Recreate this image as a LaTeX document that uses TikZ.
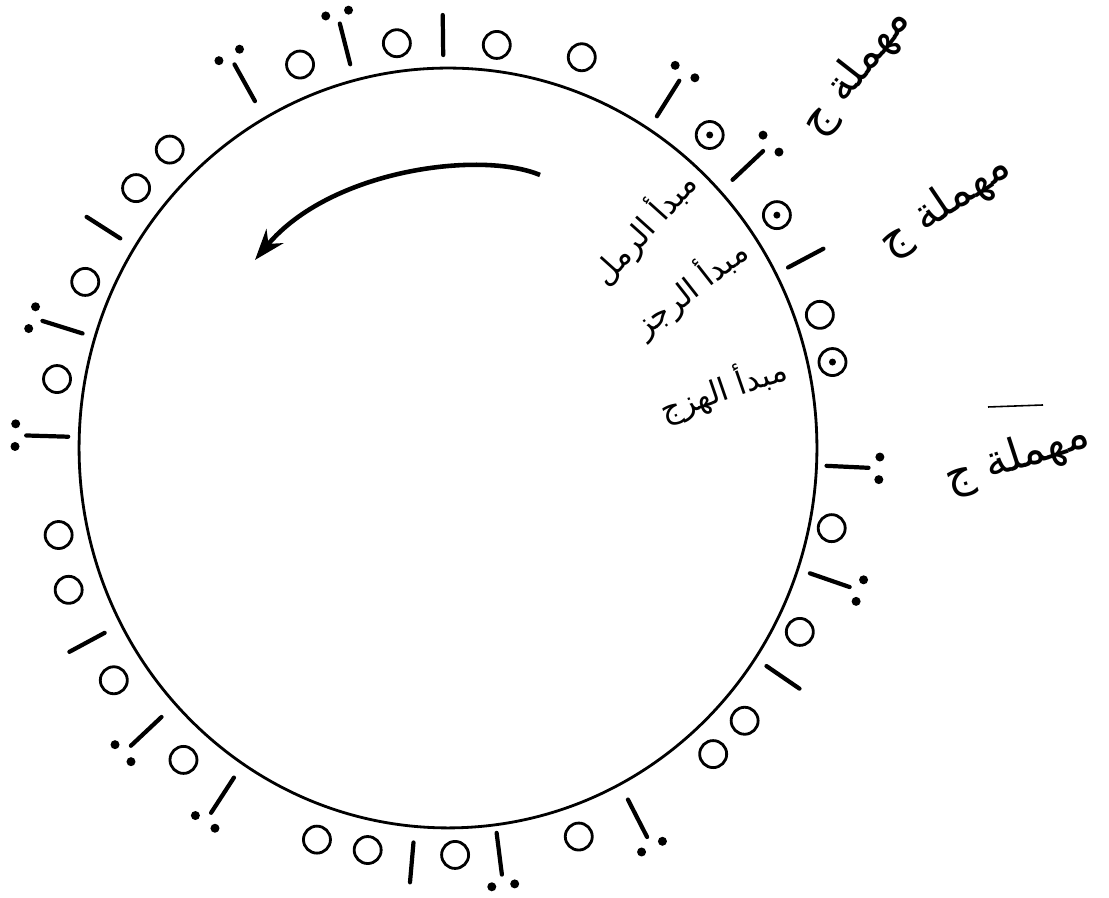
\documentclass[tikz,border=0pt]{standalone}
\usepackage{fontspec}
\usetikzlibrary{arrows.meta}
\newfontfamily\arabicfont[Script=Arabic]{DejaVu Sans}
\TeXXeTstate=1

\begin{document}
\begin{tikzpicture}[
  x=0.02cm, y=0.02cm,
  ring/.style={circle, draw, line width=1.6pt, minimum size=0.54cm, inner sep=0pt},
  tick/.style={line width=2.4pt, line cap=round},
  lbl/.style={font=\arabicfont\fontsize{18}{20}\selectfont, inner sep=0pt},
  big/.style={font=\arabicfont\fontsize{25}{28}\selectfont, inner sep=0pt},
  arr/.style={-{Stealth[length=0.62cm, width=0.44cm]}, line width=2.6pt},
]
\useasboundingbox (0,0) rectangle (1109,898);
\coordinate (c) at (448,450);

% --- la dairah ---
\draw[line width=1.6pt] (c) ellipse [x radius=7.38cm, y radius=7.6cm];

% --- sawakin ---
\foreach \a/\r [count=\i] in {83.1/406, 71.1/413, 19.7/395, -11.8/392, -27.6/397,
    -42.6/403, -49.1/405, -71.4/410, -89/407, -101.3/410, -108.5/413, -130.3/409,
    -145.2/407, -159.5/405, -167.4/399, 170/397, 155.4/399, 140.2/406, 133/408,
    111.1/411, 97.2/408}
  \node[ring] (o\i) at ([shift={(\a:\r)}]c) {};

% --- sawakin manqutah ---
\foreach \a/\r [count=\i] in {50.1/408, 35.3/403, 12.6/394} {
  \node[ring] (d\i) at ([shift={(\a:\r)}]c) {};
  \fill (d\i.center) circle (0.07cm);
}

% --- harakat ---
\foreach \a/\r in {90.7/393, 27.96/385, -34.4/386, -95/396, -151.7/390, 147.4/389}
  \draw[tick] ([shift={(\a:\r)}]c) -- ([shift={(\a:{\r+40})}]c);

% --- harakat bi-nuqtatayn ---
\foreach \a/\r in {57.8/392, 43.3/391, -2.7/379, -19.1/383, -62.9/395, -82.8/388,
    -123/393, -136.8/393, 178.3/380, 162.6/383, 119.1/397, 104.3/396} {
  \draw[tick] ([shift={(\a:\r)}]c) -- ([shift={(\a:{\r+42})}]c);
  \fill ([shift={({\a+1.5}:{\r+53})}]c) circle (0.09cm);
  \fill ([shift={({\a-1.5}:{\r+53})}]c) circle (0.09cm);
}

% --- itijah ---
\coordinate (aS) at (540,723);
\coordinate (aE) at (255,638);
\draw[arr] (aS) .. controls (480,748) and (330,728) .. (aE);

% --- mabadi' ---
\node[lbl, rotate=48] (ramal) at (644,670) {\beginR مبدأ الرمل\endR};
\node[lbl, rotate=38] (rajaz) at (690,610) {\beginR مبدأ الرجز\endR};
\node[lbl, rotate=19] (hazaj) at (723,509) {\beginR مبدأ الهزج\endR};

% --- muhmalah ---
\node[big, rotate=52] (m1) at (856,826) {\beginR مهملة ج\endR};
\node[big, rotate=34] (m2) at (945,693) {\beginR مهملة ج\endR};
\node[big, rotate=18] (m3) at (1017,440) {\beginR مهملة ج\endR};
\draw[line width=0.9pt] (988,491) -- (1043,493);

\end{tikzpicture}
\end{document}
